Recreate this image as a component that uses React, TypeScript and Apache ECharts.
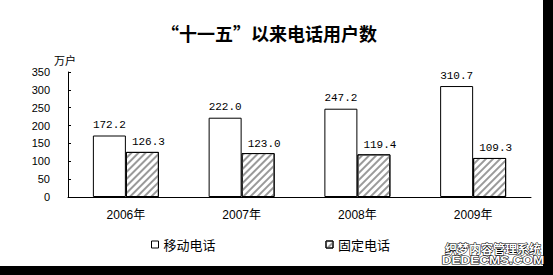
import React, { useEffect, useRef } from "react";
import * as echarts from "echarts";

const categories = ["2006年", "2007年", "2008年", "2009年"];
const mobileValues = [172.2, 222.0, 247.2, 310.7];
const fixedValues = [126.3, 123.0, 119.4, 109.3];
const seriesNames = ["移动电话", "固定电话"];
const titleText = "“十一五”以来电话用户数";
const unitText = "万户";

export default function App() {
  const ref = useRef<HTMLDivElement>(null);
  useEffect(() => {
    document.body.style.margin = "0";
    const chart = echarts.init(ref.current!, null, { renderer: "svg" });
    const cjk = "'Noto Sans CJK SC', sans-serif";
    const numFont = "'Liberation Sans', 'Noto Sans CJK SC', sans-serif";
    const monoFont = "'Liberation Mono', 'DejaVu Sans Mono', monospace";
    const hatch = {
      symbol: "rect",
      symbolSize: 1,
      dashArrayX: [1, 0],
      dashArrayY: [2, 2.4],
      rotation: -Math.PI / 4,
      color: "#9a9a9a",
      backgroundColor: "#ffffff",
    };
    chart.setOption({
      animation: false,
      backgroundColor: "#ffffff",
      title: {
        text: titleText,
        left: 264,
        top: 19,
        textAlign: "center",
        textStyle: { fontFamily: cjk, fontSize: 18, fontWeight: "bold", color: "#000" },
      },
      grid: { left: 68, right: 22, top: 72, bottom: 78, containLabel: false },
      legend: {
        data: [
          { name: seriesNames[0], icon: "rect", itemStyle: { color: "#fff", borderColor: "#000", borderWidth: 1 } },
          { name: seriesNames[1], icon: "rect", itemStyle: { color: "#fff", borderColor: "#000", borderWidth: 1, decal: hatch } },
        ],
        left: 146,
        top: 233,
        itemWidth: 7,
        itemHeight: 7,
        itemGap: 110,
        textStyle: { fontFamily: cjk, fontSize: 13, color: "#000" },
      },
      xAxis: {
        type: "category",
        data: categories,
        axisLine: { lineStyle: { color: "#000", width: 1 } },
        axisTick: { inside: true, length: 3, lineStyle: { color: "#000" } },
        axisLabel: { margin: 12, fontFamily: numFont, fontSize: 12, color: "#000" },
      },
      yAxis: {
        type: "value",
        min: 0,
        max: 350,
        interval: 50,
        name: unitText,
        nameGap: 7,
        nameTextStyle: { fontFamily: cjk, fontSize: 11, color: "#000", padding: [0, 6, 0, 0] },
        axisLine: { show: true, lineStyle: { color: "#000", width: 1 } },
        axisTick: { show: true, inside: true, length: 3, lineStyle: { color: "#000" } },
        axisLabel: { margin: 18, fontFamily: numFont, fontSize: 11, color: "#000" },
        splitLine: { show: false },
      },
      series: [
        {
          name: seriesNames[0],
          type: "bar",
          data: mobileValues,
          barWidth: 33,
          barGap: "0%",
          itemStyle: { color: "#ffffff", borderColor: "#000", borderWidth: 1 },
          label: {
            show: true,
            position: "top",
            distance: 5,
            fontFamily: monoFont,
            fontSize: 11,
            color: "#000",
            formatter: (p: any) => Number(p.value).toFixed(1),
          },
        },
        {
          name: seriesNames[1],
          type: "bar",
          data: fixedValues,
          barWidth: 33,
          barGap: "0%",
          itemStyle: { color: "#ffffff", borderColor: "#000", borderWidth: 1, decal: hatch },
          label: {
            show: true,
            position: "top",
            distance: 4,
            offset: [6, 0],
            fontFamily: monoFont,
            fontSize: 11,
            color: "#000",
            formatter: (p: any) => Number(p.value).toFixed(1),
          },
        },
      ],
      graphic: [
        { type: "rect", left: 543, top: 0, shape: { width: 10, height: 275 }, style: { fill: "#000" }, z: 100 },
        { type: "rect", left: 0, top: 266, shape: { width: 553, height: 9 }, style: { fill: "#000" }, z: 100 },
        {
          type: "text",
          x: 493,
          y: 248,
          z: 101,
          style: {
            text: "织梦内容管理系统",
            fontFamily: cjk,
            fontSize: 12,
            fontWeight: "bold",
            fill: "#fff",
            stroke: "#000",
            lineWidth: 1,
            align: "center",
            verticalAlign: "middle",
          },
        },
        {
          type: "text",
          x: 493,
          y: 261,
          scaleX: 1.35,
          originX: 0,
          originY: 0,
          z: 101,
          style: {
            text: "DEDECMS.COM",
            fontFamily: "'Liberation Sans', sans-serif",
            fontSize: 10,
            fontWeight: "bold",
            fill: "#fff",
            stroke: "#000",
            lineWidth: 1,
            align: "center",
            verticalAlign: "middle",
          },
        },
      ],
    });
    return () => chart.dispose();
  }, []);
  return <div ref={ref} style={{ width: 553, height: 275 }} />;
}
